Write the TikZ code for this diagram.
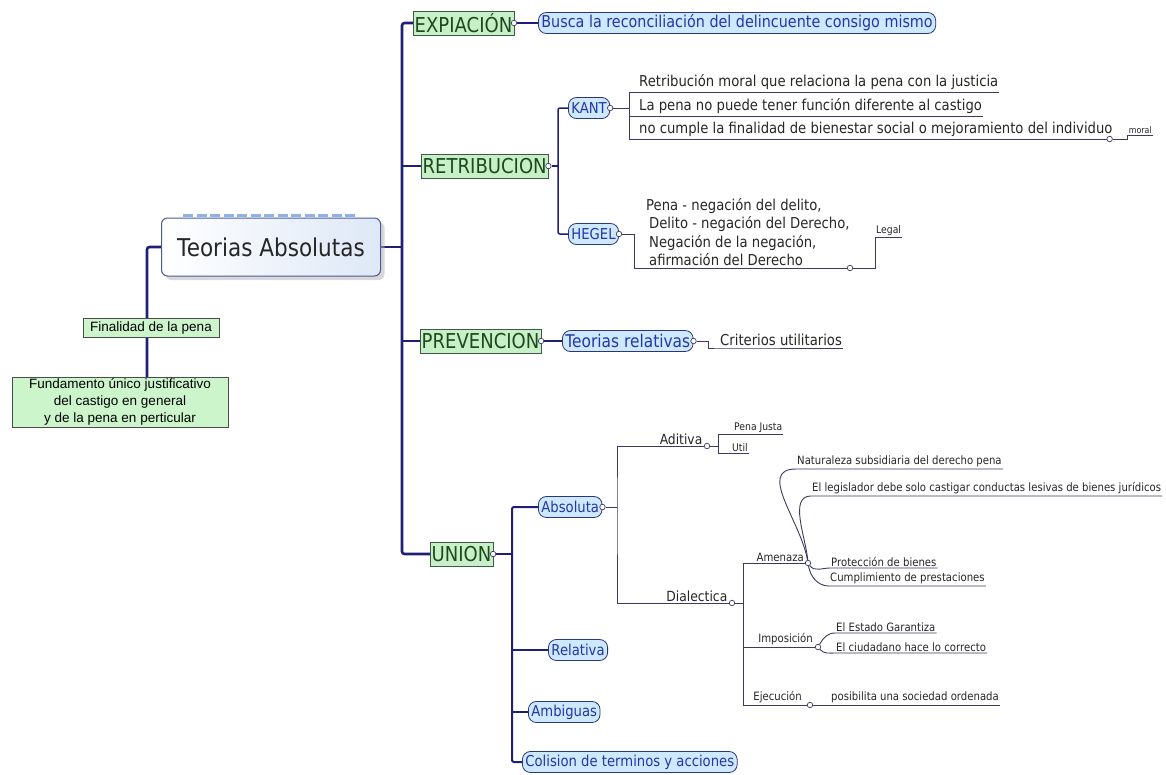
\documentclass[tikz,border=0pt]{standalone}
\usepackage{fontspec}
\setmainfont{DejaVu Sans}[FakeStretch=0.88]
\newfontfamily\boxfont{Liberation Sans}
\usetikzlibrary{positioning,shadows,backgrounds}

\definecolor{navy}{HTML}{1F1F78}
\definecolor{twigc}{HTML}{3A3A62}
\definecolor{greenfill}{HTML}{C8F0C8}
\definecolor{greentext}{HTML}{1C4A1C}
\definecolor{greenline}{HTML}{3E5A46}
\definecolor{pillfill}{HTML}{CDE8FF}
\definecolor{pillline}{HTML}{2A3676}
\definecolor{pilltext}{HTML}{2536A6}
\definecolor{rootline}{HTML}{4A5A98}
\definecolor{ringc}{HTML}{8FB2E2}
\definecolor{notefill}{HTML}{CCF5CC}

\begin{document}
\begin{tikzpicture}[x=1pt, y=-1pt,
  title/.style = {draw=rootline, line width=1pt, rounded corners=6pt, left color=white, middle color=white, right color=ringc!30, minimum width=219pt, minimum height=58pt, font=\fontsize{24.5}{28}\selectfont, text=black!85, drop shadow={shadow xshift=4pt, shadow yshift=-4pt, fill=black!30}},
  ring/.style = {line width=2.4pt, draw=ringc, dash pattern=on 10pt off 3.5pt},
  note/.style = {draw=black!70, fill=notefill, inner sep=1pt, align=center, font=\boxfont\fontsize{13.5}{17}\selectfont},
  lvl/.style = {draw=greenline, fill=greenfill, text=greentext, anchor=west, inner xsep=1.5pt, inner ysep=0pt, minimum height=24pt, font=\fontsize{20.5}{22}\selectfont},
  pill/.style = {draw=pillline, fill=pillfill, text=pilltext, line width=0.8pt, rounded corners=8pt, anchor=west, inner xsep=3pt, inner ysep=1pt, minimum height=21pt, font=\fontsize{15}{18}\selectfont},
  knob/.style = {circle, draw=twigc, fill=white, line width=0.7pt, inner sep=0pt, minimum size=5.5pt},
  mid/.style = {anchor=south east, inner sep=1.5pt, text=black!85, font=\fontsize{14}{16}\selectfont},
  leaf/.style = {anchor=south west, inner xsep=1pt, inner ysep=2pt, text=black!85, font=\fontsize{15}{17}\selectfont},
  small/.style = {anchor=south west, inner xsep=1pt, inner ysep=1.5pt, text=black!85, font=\fontsize{11.5}{13}\selectfont},
  tiny/.style = {anchor=south west, inner xsep=1pt, inner ysep=1.5pt, text=black!85, font=\fontsize{10.5}{12}\selectfont},
  trunk/.style = {line width=2.6pt, draw=navy, rounded corners=2.5pt},
  bough/.style = {line width=1.5pt, draw=navy, rounded corners=2pt},
  twig/.style = {line width=0.9pt, draw=twigc}]

\useasboundingbox (0,0) rectangle (1166,774);

% centre
\node[title] (root) at (271,247) {Teorias Absolutas};
\draw[ring] ([xshift=22pt,yshift=2pt]root.north west) -- ([xshift=-26pt,yshift=2pt]root.north east);

\coordinate (lj) at (147,247);
\node[note, minimum width=136pt, minimum height=19pt] (fin) at (151,328) {Finalidad de la pena};
\node[note, minimum width=216pt, minimum height=50pt] (fund) at (120,402) {Fundamento único justificativo\\del castigo en general\\y de la pena en perticular};

% first level
\coordinate (tr) at (402,247);
\node[lvl] (expi) at (413,23) {EXPIACIÓN};
\node[lvl] (retr) at (421,166) {RETRIBUCION};
\node[lvl] (prev) at (420,341) {PREVENCION};
\node[lvl] (unio) at (430,554) {UNION};

\node[knob] (expik) at (expi.east) {};
\node[knob] (retrk) at (retr.east) {};
\node[knob] (prevk) at (prev.east) {};
\node[knob] (uniok) at (unio.east) {};

\node[pill, font=\fontsize{16.3}{18}\selectfont] (busca) at (538,23) {Busca la reconciliación del delincuente consigo mismo};

% retribucion
\coordinate (rj) at (558,166);
\node[pill] (kant) at (568,108) {KANT};
\node[pill] (hegel) at (568,234) {HEGEL};
\node[knob] (kantk) at (kant.east) {};
\node[knob] (hegk) at (hegel.east) {};

\coordinate (kj) at (629,110);
\node[leaf] (k1) at (638,92) {Retribución moral que relaciona la pena con la justicia};
\node[leaf] (k2) at (638,116) {La pena no puede tener función diferente al castigo};
\node[leaf] (k3) at (638,139) {no cumple la finalidad de bienestar social o mejoramiento del individuo};
\node[knob] (k3k) at ([xshift=-4pt]k3.south east) {};
\node[tiny, font=\fontsize{9}{10}\selectfont] (mor) at ([xshift=18pt,yshift=4pt]k3k) {moral};

\coordinate (hj) at (634,234);
\node[leaf, align=left, font=\fontsize{15}{18.5}\selectfont] (heg) at (645,268) {Pena - negación del delito,\\\hspace*{3pt}Delito - negación del Derecho,\\\hspace*{3pt}Negación de la negación,\\\hspace*{3pt}afirmación del Derecho};
\node[knob] (hegk2) at (850,268) {};
\node[tiny] (leg) at (875,237) {Legal};

% prevencion
\node[pill, font=\fontsize{17.5}{20}\selectfont] (trel) at (562,341) {Teorias relativas};
\node[knob] (trelk) at (trel.east) {};
\coordinate (cj) at (708,341);
\node[leaf] (crit) at (719,348) {Criterios utilitarios};

% union
\coordinate (uj) at (512,554);
\node[pill] (abso) at (538,507) {Absoluta};
\node[pill] (rela) at (548,650) {Relativa};
\node[pill] (ambi) at (528,712) {Ambiguas};
\node[pill] (coli) at (522,762) {Colision de terminos y acciones};
\node[knob] (absok) at (abso.east) {};

\coordinate (aj) at (617,507);
\node[knob] (aditk) at (707,446) {};
\node[mid] (adit) at (704,446) {Aditiva};
\node[knob] (dialk) at (732,603) {};
\node[mid] (dial) at (729,603) {Dialectica};

\coordinate (adj) at (718,446);
\node[tiny] (pj) at (733,434) {Pena Justa};
\node[tiny] (util) at (731,453) {Util};

\coordinate (dj) at (743,603);
\node[knob] (amek) at (808,563) {};
\node[small, anchor=south east] (amen) at (805,563) {Amenaza};
\node[knob] (impk) at (818,647) {};
\node[small, anchor=south east] (impo) at (814,647) {Imposición};
\node[knob] (ejek) at (810,705) {};
\node[small, anchor=south east] (ejec) at (803,705) {Ejecución};

\node[small] (natu) at (796,469) {Naturaleza subsidiaria del derecho pena};
\node[small] (legi) at (811,496) {El legislador debe solo castigar conductas lesivas de bienes jurídicos};
\node[small] (prot) at (830,568) {Protección de bienes};
\node[small] (cump) at (829,586) {Cumplimiento de prestaciones};
\node[small] (esta) at (835,633) {El Estado Garantiza};
\node[small] (ciud) at (835,653) {El ciudadano hace lo correcto};
\node[small] (posi) at (830,705) {posibilita una sociedad ordenada};

\begin{scope}[on background layer]
\draw[trunk] (root.west) -- (lj) -- (fund.north -| lj);
\draw[trunk] (expi.west) -| (unio.west -| tr) -- (unio.west);
\draw[trunk] (root.east) -- (tr);
\draw[trunk] (retr.west -| tr) -- (retr.west);
\draw[trunk] (prev.west -| tr) -- (prev.west);

\draw[bough] (expik) -- (busca);
\draw[bough] (retrk) -- (rj);
\draw[bough] (kant.west) -| (rj) |- (hegel.west);
\draw[bough] (prevk) -- (trel);
\draw[bough, line width=2pt] (uniok) -- (uj);
\draw[bough, line width=2pt] (abso.west) -| (uj) |- (coli.west);
\draw[bough, line width=2pt] (rela.west -| uj) -- (rela.west);
\draw[bough, line width=2pt] (ambi.west -| uj) -- (ambi.west);

\draw[twig] (kantk) -- (kantk -| kj);
\draw[twig] (k1.south east) -- (k1.south west -| kj) -- (k3.south west -| kj) -- (k3k);
\draw[twig] (k2.south west -| kj) -- (k2.south east);
\draw[twig] (k3k) -| (mor.south west) -- (mor.south east);

\draw[twig] (hegk) -- (hj) -- (hegk2 -| hj) -- (hegk2);
\draw[twig] (hegk2) -| (leg.south west) -- (leg.south east);

\draw[twig] (trelk) -- (cj) |- (crit.south west) -- (crit.south east);

\draw[twig] (absok) -- (aj);
\draw[twig] (aditk) -| (aj) |- (dialk);
\draw[twig] (aditk) -- (adj);
\draw[twig] (pj.south east) -- (pj.south west -| adj) -- (util.south west -| adj) -- (util.south east);

\draw[twig] (dialk) -- (dj);
\draw[twig] (amek) -| (dj) |- (ejek);
\draw[twig] (impk) -- (impk -| dj);

\draw[twig] (amek) to[out=100, in=180, looseness=1.1] (natu.south west) -- (natu.south east);
\draw[twig] (amek) to[out=95, in=180, looseness=0.9] (legi.south west) -- (legi.south east);
\draw[twig] (amek) to[out=-55, in=180] (prot.south west) -- (prot.south east);
\draw[twig] (amek) to[out=-80, in=180] (cump.south west) -- (cump.south east);
\draw[twig] (impk) to[out=60, in=180] (esta.south west) -- (esta.south east);
\draw[twig] (impk) to[out=-50, in=180] (ciud.south west) -- (ciud.south east);
\draw[twig] (ejek) -- (posi.south west) -- (posi.south east);
\end{scope}
\end{tikzpicture}
\end{document}
